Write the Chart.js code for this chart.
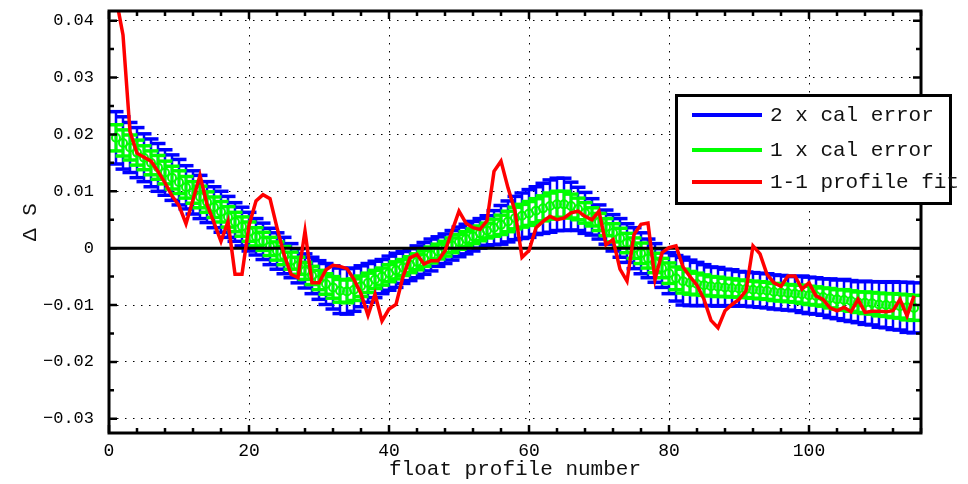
<!DOCTYPE html>
<html lang="en">
<head>
    <meta charset="UTF-8">
    <title>Float salinity offset vs calibration error</title>
    <script src="https://cdn.jsdelivr.net/npm/chart.js"></script>
    <style>
        body { margin: 0; background: white; }
        #wrap { position: relative; width: 968px; height: 484px; }
        #legend {
            position: absolute; left: 675px; top: 94px; width: 277px; height: 111px;
            box-sizing: border-box; border: 3px solid black; background: white;
            font-family: "Liberation Mono", monospace; font-size: 21px; color: #111;
        }
        .row { position: absolute; left: 14px; height: 24px; display: flex; align-items: center; white-space: nowrap; }
        .swatch { display: inline-block; width: 70px; height: 4px; margin-right: 8px; }
    </style>
</head>
<body>
<div id="wrap">
    <canvas id="calChart" width="968" height="484"></canvas>
    <div id="legend"></div>
</div>

<script>
    // profile numbers
    var profiles = [
        1, 2, 3, 4, 5, 6, 7, 8, 9, 10, 11, 12, 13, 14, 15, 16, 17, 18, 19, 20,
        21, 22, 23, 24, 25, 26, 27, 28, 29, 30, 31, 32, 33, 34, 35, 36, 37, 38, 39, 40,
        41, 42, 43, 44, 45, 46, 47, 48, 49, 50, 51, 52, 53, 54, 55, 56, 57, 58, 59, 60,
        61, 62, 63, 64, 65, 66, 67, 68, 69, 70, 71, 72, 73, 74, 75, 76, 77, 78, 79, 80,
        81, 82, 83, 84, 85, 86, 87, 88, 89, 90, 91, 92, 93, 94, 95, 96, 97, 98, 99, 100,
        101, 102, 103, 104, 105, 106, 107, 108, 109, 110, 111, 112, 113, 114, 115
    ];

    // calibration offset (centre of the error bars)
    var calCenter = [
        0.0194, 0.0185, 0.0177, 0.0168, 0.0159, 0.0150, 0.0142, 0.0133, 0.0124, 0.0116,
        0.0107, 0.0098, 0.0090, 0.0081, 0.0072, 0.0064, 0.0055, 0.0046, 0.0038, 0.0029,
        0.0020, 0.0012, 0.0003, -0.0005, -0.0013, -0.0022, -0.0031, -0.0040, -0.0048, -0.0056,
        -0.0063, -0.0069, -0.0075, -0.0076, -0.0073, -0.0067, -0.0061, -0.0055, -0.0050, -0.0044,
        -0.0039, -0.0034, -0.0029, -0.0024, -0.0018, -0.0012, -0.0006, -0.0001, 0.0005, 0.0011,
        0.0016, 0.0021, 0.0026, 0.0031, 0.0036, 0.0041, 0.0047, 0.0053, 0.0057, 0.0061,
        0.0066, 0.0070, 0.0074, 0.0077, 0.0077, 0.0074, 0.0069, 0.0062, 0.0055, 0.0046,
        0.0037, 0.0027, 0.0018, 0.0009, 0.0000, -0.0009, -0.0018, -0.0026, -0.0035, -0.0044,
        -0.0053, -0.0058, -0.0061, -0.0063, -0.0065, -0.0067, -0.0068, -0.0069, -0.0070, -0.0071,
        -0.0072, -0.0073, -0.0074, -0.0075, -0.0077, -0.0078, -0.0079, -0.0080, -0.0081, -0.0083,
        -0.0084, -0.0086, -0.0088, -0.0090, -0.0091, -0.0093, -0.0095, -0.0096, -0.0097, -0.0099,
        -0.0100, -0.0101, -0.0102, -0.0104, -0.0105
    ];

    // 1 x calibration error
    var calError = [
        0.0023, 0.0023, 0.0022, 0.0022, 0.0021, 0.0021, 0.0021, 0.0020, 0.0020, 0.0020,
        0.0019, 0.0019, 0.0019, 0.0018, 0.0018, 0.0018, 0.0018, 0.0017, 0.0017, 0.0017,
        0.0016, 0.0016, 0.0016, 0.0016, 0.0016, 0.0015, 0.0015, 0.0015, 0.0016, 0.0017,
        0.0018, 0.0019, 0.0020, 0.0020, 0.0019, 0.0018, 0.0017, 0.0016, 0.0015, 0.0015,
        0.0015, 0.0014, 0.0014, 0.0014, 0.0014, 0.0014, 0.0013, 0.0013, 0.0013, 0.0013,
        0.0013, 0.0013, 0.0013, 0.0013, 0.0015, 0.0017, 0.0018, 0.0019, 0.0020, 0.0021,
        0.0021, 0.0022, 0.0023, 0.0023, 0.0023, 0.0021, 0.0019, 0.0018, 0.0016, 0.0015,
        0.0015, 0.0016, 0.0017, 0.0017, 0.0018, 0.0018, 0.0017, 0.0017, 0.0017, 0.0018,
        0.0020, 0.0021, 0.0020, 0.0019, 0.0018, 0.0017, 0.0017, 0.0016, 0.0016, 0.0015,
        0.0015, 0.0015, 0.0015, 0.0015, 0.0015, 0.0015, 0.0015, 0.0015, 0.0016, 0.0016,
        0.0016, 0.0016, 0.0017, 0.0017, 0.0018, 0.0018, 0.0018, 0.0019, 0.0019, 0.0020,
        0.0020, 0.0021, 0.0021, 0.0022, 0.0022
    ];

    // 1-1 profile fit
    var profileFit = [
        0.0440, 0.0375, 0.0205, 0.0167, 0.0160, 0.0153, 0.0135, 0.0115, 0.0092, 0.0075,
        0.0043, 0.0085, 0.0128, 0.0077, 0.0045, 0.0012, 0.0047, -0.0046, -0.0046, 0.0040,
        0.0083, 0.0094, 0.0087, 0.0036, -0.0011, -0.0046, -0.0052, 0.0030, -0.0061, -0.0061,
        -0.0038, -0.0030, -0.0032, -0.0036, -0.0055, -0.0080, -0.0118, -0.0081, -0.0128, -0.0107,
        -0.0099, -0.0050, -0.0017, -0.0011, -0.0028, -0.0022, -0.0022, -0.0005, 0.0030, 0.0065,
        0.0044, 0.0036, 0.0033, 0.0048, 0.0135, 0.0153, 0.0106, 0.0065, -0.0016, -0.0004,
        0.0036, 0.0047, 0.0056, 0.0050, 0.0053, 0.0062, 0.0065, 0.0056, 0.0050, 0.0065,
        0.0006, 0.0015, -0.0037, -0.0058, 0.0024, 0.0042, 0.0044, -0.0055, -0.0008, 0.0001,
        0.0004, -0.0033, -0.0050, -0.0065, -0.0090, -0.0127, -0.0140, -0.0110, -0.0099, -0.0090,
        -0.0075, 0.0004, -0.0010, -0.0046, -0.0061, -0.0067, -0.0049, -0.0049, -0.0072, -0.0061,
        -0.0084, -0.0090, -0.0105, -0.0110, -0.0104, -0.0112, -0.0090, -0.0113, -0.0111, -0.0111,
        -0.0112, -0.0110, -0.0090, -0.0119, -0.0084
    ];

    var xTicks = [0, 20, 40, 60, 80, 100];
    var yTicks = [-0.03, -0.02, -0.01, 0, 0.01, 0.02, 0.03, 0.04];

    var BLUE = '#0000ff', GREEN = '#00ff00', RED = '#ff0000';
    var MONO = '"Liberation Mono", "DejaVu Sans Mono", monospace';

    // vertical bars at centre +- k*error, separated by nulls so each is its own segment
    function stems(k) {
        var pts = [];
        profiles.forEach(function(p, i) {
            pts.push({x: p, y: calCenter[i] - k * calError[i]});
            pts.push({x: p, y: calCenter[i] + k * calError[i]});
            pts.push({x: p, y: null});
        });
        return pts;
    }
    function caps(k) {
        var pts = [];
        profiles.forEach(function(p, i) {
            pts.push({x: p, y: calCenter[i] - k * calError[i]});
            pts.push({x: p, y: calCenter[i] + k * calError[i]});
        });
        return pts;
    }

    // zero line under the fit, box + inward ticks on top
    var framePlugin = {
        id: 'frame',
        beforeDatasetDraw: function(chart, args) {
            if (chart.data.datasets[args.index].label !== '1-1 profile fit') return;
            var ctx = chart.ctx, a = chart.chartArea, py = chart.scales.y.getPixelForValue(0);
            ctx.save();
            ctx.strokeStyle = '#000';
            ctx.lineWidth = 3;
            ctx.beginPath();
            ctx.moveTo(a.left, py);
            ctx.lineTo(a.right, py);
            ctx.stroke();
            ctx.restore();
        },
        afterDraw: function(chart) {
            var ctx = chart.ctx, a = chart.chartArea, x = chart.scales.x, y = chart.scales.y;
            ctx.save();
            ctx.strokeStyle = '#000';
            ctx.lineWidth = 2.5;
            ctx.beginPath();
            for (var v = 0; v <= x.max; v += 4) {
                var px = x.getPixelForValue(v);
                var len = (v % 20 === 0) ? 8 : 5;
                ctx.moveTo(px, a.bottom); ctx.lineTo(px, a.bottom - len);
                ctx.moveTo(px, a.top); ctx.lineTo(px, a.top + len);
            }
            for (var k = -6; k <= 8; k++) {
                var py = y.getPixelForValue(k * 0.005);
                var l2 = (k % 2 === 0) ? 8 : 5;
                ctx.moveTo(a.left, py); ctx.lineTo(a.left + l2, py);
                ctx.moveTo(a.right, py); ctx.lineTo(a.right - l2, py);
            }
            ctx.stroke();
            ctx.lineWidth = 3;
            ctx.strokeRect(a.left, a.top, a.right - a.left, a.bottom - a.top);
            ctx.restore();
        }
    };

    var ctx = document.getElementById('calChart').getContext('2d');
    var calChart = new Chart(ctx, {
        type: 'scatter',
        data: {
            datasets: [
                { label: '2 x cal error', data: stems(2), showLine: true, spanGaps: false,
                  borderColor: BLUE, borderWidth: 2.5, pointRadius: 0, order: 5 },
                { label: '2 x cal error caps', data: caps(2), showLine: false,
                  pointStyle: 'line', pointRadius: 7.5, pointBorderWidth: 3.5,
                  borderColor: BLUE, pointBorderColor: BLUE, order: 4 },
                { label: '1 x cal error', data: stems(1), showLine: true, spanGaps: false,
                  borderColor: GREEN, borderWidth: 3, pointRadius: 0, order: 3 },
                { label: '1 x cal error caps', data: caps(1), showLine: false,
                  pointStyle: 'line', pointRadius: 7.5, pointBorderWidth: 3.5,
                  borderColor: GREEN, pointBorderColor: GREEN, order: 2 },
                { label: '1 x cal error centre',
                  data: profiles.map(function(p, i) { return {x: p, y: calCenter[i]}; }),
                  showLine: false, pointStyle: 'circle', pointRadius: 4, pointBorderWidth: 2,
                  pointBorderColor: GREEN, pointBackgroundColor: 'rgba(0,0,0,0)', order: 1 },
                { label: '1-1 profile fit',
                  data: profiles.map(function(p, i) { return {x: p, y: profileFit[i]}; }),
                  showLine: true, borderColor: RED, borderWidth: 3.5, pointRadius: 0, order: 0 }
            ]
        },
        options: {
            responsive: false,
            animation: false,
            events: [],
            layout: { padding: { left: 0, top: 9, right: 47, bottom: 0 } },
            plugins: { legend: { display: false }, tooltip: { enabled: false } },
            scales: {
                x: {
                    type: 'linear', min: 0, max: 116,
                    afterBuildTicks: function(s) { s.ticks = xTicks.map(function(v) { return {value: v}; }); },
                    afterFit: function(s) { s.height = 51; s.paddingLeft = 0; s.paddingRight = 0; },
                    grid: { color: '#000', lineWidth: 1, drawTicks: false },
                    border: { display: false, dash: [1.5, 6.5] },
                    ticks: { color: '#000', padding: 7, maxRotation: 0, autoSkip: false,
                             font: { family: MONO, size: 18 } },
                    title: { display: true, text: 'float profile number', color: '#111',
                             font: { family: MONO, size: 21 }, padding: { top: 0, bottom: 2 } }
                },
                y: {
                    min: -0.0325, max: 0.0417,
                    afterBuildTicks: function(s) { s.ticks = yTicks.map(function(v) { return {value: v}; }); },
                    afterFit: function(s) { s.width = 109; s.paddingTop = 0; s.paddingBottom = 0; },
                    grid: { color: '#000', lineWidth: 1, drawTicks: false },
                    border: { display: false, dash: [1.5, 6.5] },
                    ticks: { color: '#000', padding: 15, font: { family: MONO, size: 17 },
                             callback: function(v) { return v === 0 ? '0' : v.toFixed(2).replace('-', '\u2212'); } },
                    title: { display: true, text: '\u0394 S', color: '#111',
                             font: { family: MONO, size: 21 }, padding: { top: 18, bottom: 0 } }
                }
            }
        },
        plugins: [framePlugin]
    });

    // legend drawn as html on top of the plot, like the original
    var legendItems = [
        { text: '2 x cal error', color: BLUE, top: 6 },
        { text: '1 x cal error', color: GREEN, top: 41 },
        { text: '1-1 profile fit', color: RED, top: 73 }
    ];
    var legend = document.getElementById('legend');
    legendItems.forEach(function(item) {
        var row = document.createElement('div');
        row.className = 'row';
        row.style.top = item.top + 'px';
        row.innerHTML = '<span class="swatch" style="background:' + item.color + '"></span>' + item.text;
        legend.appendChild(row);
    });
</script>
</body>
</html>
